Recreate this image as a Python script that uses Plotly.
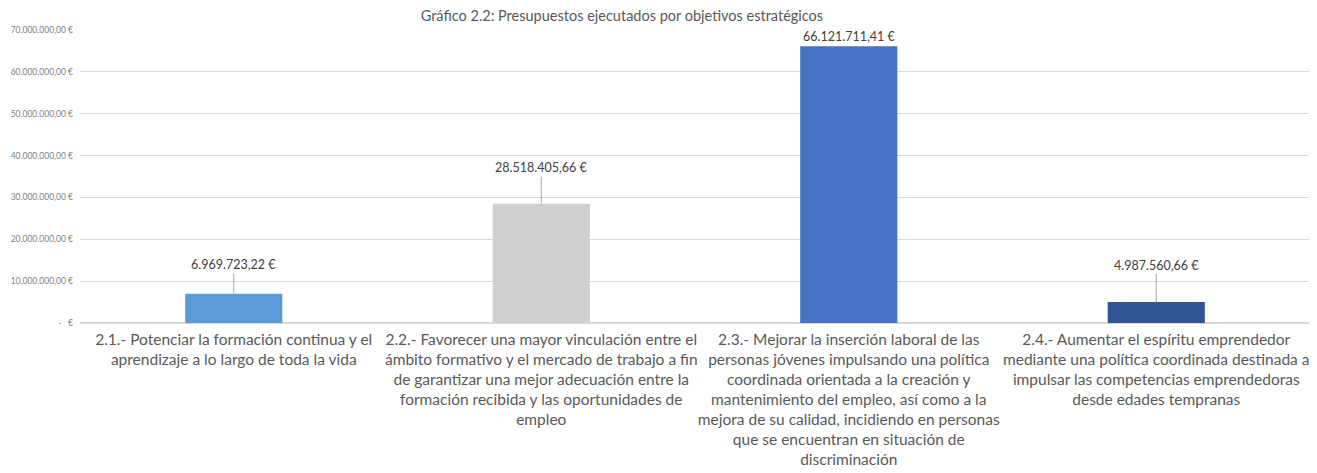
import plotly.graph_objects as go

# Data
categories = [
    "2.1.- Potenciar la formación continua y el<br>aprendizaje a lo largo de toda la vida",
    "2.2.- Favorecer una mayor vinculación entre el<br>ámbito formativo y el mercado de trabajo a fin<br>de garantizar una mejor adecuación entre la<br>formación recibida y las oportunidades de<br>empleo",
    "2.3.- Mejorar la inserción laboral de las<br>personas jóvenes impulsando una política<br>coordinada orientada a la creación y<br>mantenimiento del empleo, así como a la<br>mejora de su calidad, incidiendo en personas<br>que se encuentran en situación de<br>discriminación",
    "2.4.- Aumentar el espíritu emprendedor<br>mediante una política coordinada destinada a<br>impulsar las competencias emprendedoras<br>desde edades tempranas",
]
values = [6969723.22, 28518405.66, 66121711.41, 4987560.66]
value_labels = ["6.969.723,22 €", "28.518.405,66 €", "66.121.711,41 €", "4.987.560,66 €"]
tick_values = [0, 10e6, 20e6, 30e6, 40e6, 50e6, 60e6, 70e6]
tick_labels = ["-   €", "10.000.000,00 €", "20.000.000,00 €", "30.000.000,00 €",
               "40.000.000,00 €", "50.000.000,00 €", "60.000.000,00 €", "70.000.000,00 €"]

# Styling
bar_colors = ["#5b9bd5", "#d0cece", "#4472c4", "#2f5597"]
label_offsets = [-29, -36, -10, -37]
label_arrows = [True, True, False, True]
font_family = "Lato, 'Open Sans', sans-serif"
text_color = "#595959"

fig = go.Figure(go.Bar(
    x=categories,
    y=values,
    marker=dict(color=bar_colors, line=dict(width=0)),
))

# Data labels with leader lines
for cat, val, lab, off, arr in zip(categories, values, value_labels, label_offsets, label_arrows):
    if arr:
        fig.add_annotation(
            x=cat, y=val, text=lab, showarrow=True, arrowhead=0, arrowwidth=1,
            arrowcolor="#a6a6a6", ax=0, ay=off, standoff=0,
            font=dict(family=font_family, size=12.5, color="#404040"),
        )
    else:
        fig.add_annotation(
            x=cat, y=val, text=lab, showarrow=False, yshift=-off,
            font=dict(family=font_family, size=12.5, color="#404040"),
        )

# the page body has an 8px margin, so the figure is sized to fit the window
fig.update_layout(
    width=1309,
    height=465,
    plot_bgcolor="white",
    paper_bgcolor="white",
    bargap=0.684,
    showlegend=False,
    margin=dict(l=72, r=7, t=22, b=150, autoexpand=False),
    title=dict(
        text="Gráfico 2.2: Presupuestos ejecutados por objetivos estratégicos",
        x=0.469, xanchor="center", y=0.984, yanchor="middle",
        font=dict(family=font_family, size=14.5, color=text_color),
    ),
    font=dict(family=font_family, color=text_color),
)

fig.update_yaxes(
    range=[0, 70e6],
    tickvals=tick_values,
    ticktext=tick_labels,
    tickfont=dict(size=8.5, color="#7f7f7f"),
    gridcolor="#d9d9d9",
    gridwidth=1,
    zeroline=True,
    zerolinecolor="#d9d9d9",
    showline=False,
    ticks="",
    ticklabelstandoff=6,
    automargin=False,
)

fig.update_xaxes(
    tickangle=0,
    tickfont=dict(size=15.5, color=text_color),
    showline=False,
    ticks="",
    showgrid=False,
    ticklabelstandoff=5,
    automargin=False,
)

fig.write_html("out.html")
